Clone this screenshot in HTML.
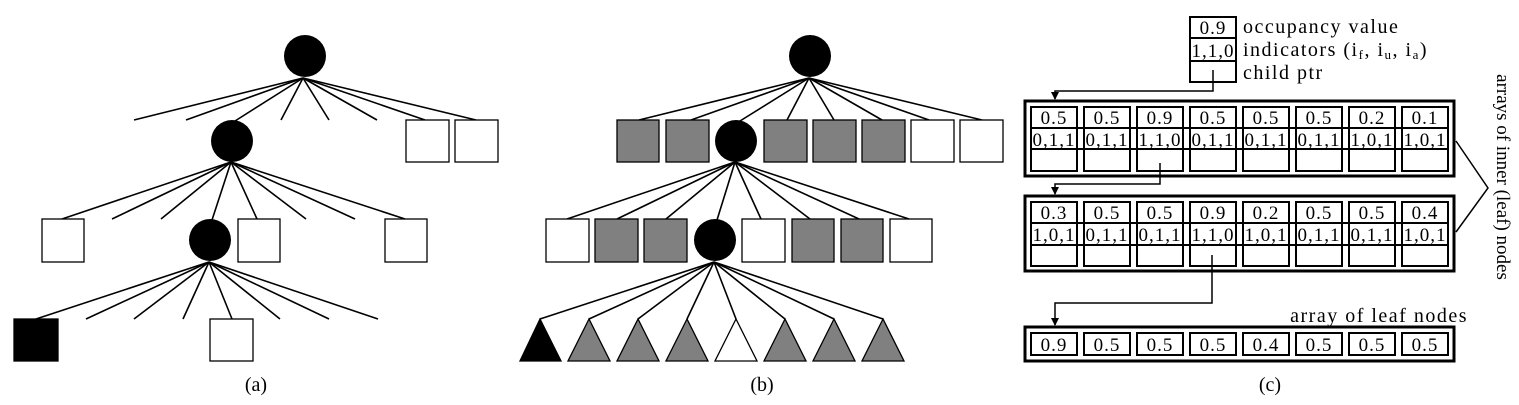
<!DOCTYPE html>
<html><head><meta charset="utf-8"><style>
html,body{margin:0;padding:0;background:#fff;}
svg{display:block;}
text{font-family:"Liberation Serif",serif;fill:#000;}
</style></head><body>
<svg width="1519" height="405" viewBox="0 0 1519 405" xmlns="http://www.w3.org/2000/svg">
<defs>
<marker id="ar" markerWidth="8" markerHeight="8" refX="4" refY="7" orient="0" markerUnits="userSpaceOnUse"><path d="M0,0 L8,0 L4,8 Z" fill="#000"/></marker>
</defs>
<!-- Panel (a) -->
<g stroke="#000" stroke-width="1.6">
<line x1="303" y1="78" x2="134" y2="120"/><line x1="303" y1="78" x2="186" y2="120"/><line x1="303" y1="78" x2="235" y2="121"/><line x1="303" y1="78" x2="281" y2="120"/><line x1="303" y1="78" x2="329" y2="120"/><line x1="303" y1="78" x2="377" y2="120"/><line x1="303" y1="78" x2="425" y2="120"/><line x1="303" y1="78" x2="476" y2="120"/>
<line x1="231" y1="162" x2="62" y2="219"/><line x1="231" y1="162" x2="112" y2="219"/><line x1="231" y1="162" x2="161" y2="219"/><line x1="231" y1="162" x2="212" y2="220"/><line x1="231" y1="162" x2="257" y2="219"/><line x1="231" y1="162" x2="306" y2="219"/><line x1="231" y1="162" x2="355" y2="219"/><line x1="231" y1="162" x2="405" y2="219"/>
<line x1="209" y1="262" x2="36" y2="319"/><line x1="209" y1="262" x2="86" y2="319"/><line x1="209" y1="262" x2="134" y2="319"/><line x1="209" y1="262" x2="183" y2="319"/><line x1="209" y1="262" x2="232" y2="319"/><line x1="209" y1="262" x2="280" y2="319"/><line x1="209" y1="262" x2="329" y2="319"/><line x1="209" y1="262" x2="378" y2="319"/>
</g>
<g stroke="#000" stroke-width="1.3" fill="#fff">
<rect x="406" y="120" width="43" height="42"/><rect x="455" y="120" width="43" height="42"/>
<rect x="42" y="219" width="42" height="43"/><rect x="238" y="219" width="42" height="43"/><rect x="385" y="219" width="42" height="43"/>
<rect x="14" y="319" width="44" height="42" fill="#000"/><rect x="210" y="319" width="43" height="42"/>
</g>
<circle cx="305" cy="56" r="21"/><circle cx="232" cy="141" r="21"/><circle cx="210" cy="240" r="21"/>
<text x="256" y="391" font-size="20" text-anchor="middle">(a)</text>

<!-- Panel (b) -->
<g stroke="#000" stroke-width="1.6">
<line x1="809" y1="78" x2="639" y2="120"/><line x1="809" y1="78" x2="691" y2="120"/><line x1="809" y1="78" x2="740" y2="121"/><line x1="809" y1="78" x2="787" y2="120"/><line x1="809" y1="78" x2="834" y2="120"/><line x1="809" y1="78" x2="882" y2="120"/><line x1="809" y1="78" x2="929" y2="120"/><line x1="809" y1="78" x2="982" y2="120"/>
<line x1="735" y1="162" x2="567" y2="219"/><line x1="735" y1="162" x2="617" y2="219"/><line x1="735" y1="162" x2="666" y2="219"/><line x1="735" y1="162" x2="717" y2="220"/><line x1="735" y1="162" x2="761" y2="219"/><line x1="735" y1="162" x2="810" y2="219"/><line x1="735" y1="162" x2="859" y2="219"/><line x1="735" y1="162" x2="909" y2="219"/>
<line x1="714" y1="262" x2="540" y2="319"/><line x1="714" y1="262" x2="589" y2="319"/><line x1="714" y1="262" x2="638" y2="319"/><line x1="714" y1="262" x2="687" y2="319"/><line x1="714" y1="262" x2="736" y2="319"/><line x1="714" y1="262" x2="785" y2="319"/><line x1="714" y1="262" x2="834" y2="319"/><line x1="714" y1="262" x2="883" y2="319"/>
</g>
<g stroke="#000" stroke-width="1.3">
<rect x="617" y="120" width="42" height="42" fill="#808080"/><rect x="666" y="120" width="43" height="42" fill="#808080"/><rect x="764" y="120" width="43" height="42" fill="#808080"/><rect x="813" y="120" width="43" height="42" fill="#808080"/><rect x="862" y="120" width="43" height="42" fill="#808080"/><rect x="911" y="120" width="43" height="42" fill="#fff"/><rect x="960" y="120" width="43" height="42" fill="#fff"/>
<rect x="546" y="219" width="43" height="43" fill="#fff"/><rect x="595" y="219" width="43" height="43" fill="#808080"/><rect x="644" y="219" width="43" height="43" fill="#808080"/><rect x="742" y="219" width="43" height="43" fill="#fff"/><rect x="792" y="219" width="42" height="43" fill="#808080"/><rect x="841" y="219" width="42" height="43" fill="#808080"/><rect x="890" y="219" width="42" height="43" fill="#fff"/>
<polygon points="540,319 520,361 561,361" fill="#000"/>
<polygon points="589,319 568,361 610,361" fill="#808080"/>
<polygon points="638,319 617,361 659,361" fill="#808080"/>
<polygon points="687,319 666,361 708,361" fill="#808080"/>
<polygon points="736,319 715,361 757,361" fill="#fff"/>
<polygon points="785,319 764,361 806,361" fill="#808080"/>
<polygon points="834,319 813,361 855,361" fill="#808080"/>
<polygon points="883,319 862,361 904,361" fill="#808080"/>
</g>
<circle cx="810" cy="56" r="21"/><circle cx="736" cy="141" r="21"/><circle cx="715" cy="240" r="21"/>
<text x="762" y="391" font-size="20" text-anchor="middle">(b)</text>

<!-- Panel (c) -->
<g fill="none" stroke="#000">
<rect x="1190" y="17" width="46" height="65" stroke-width="2"/>
<line x1="1190" y1="38" x2="1236" y2="38" stroke-width="2"/><line x1="1190" y1="61" x2="1236" y2="61" stroke-width="2"/>
<polyline points="1213,70 1213,91 1055,91 1055,99" stroke-width="1.5" marker-end="url(#ar)"/>
<polyline points="1160,163 1160,184 1055,184 1055,194" stroke-width="1.5" marker-end="url(#ar)"/>
<polyline points="1212,255 1212,303 1055,303 1055,325" stroke-width="1.5" marker-end="url(#ar)"/>
<rect x="1025" y="101" width="429" height="75" stroke-width="3"/>
<rect x="1025" y="196" width="429" height="75" stroke-width="3"/>
<rect x="1025" y="327" width="429" height="34" stroke-width="3"/>
<polyline points="1456,141 1488,188 1456,232" stroke-width="1.5"/>
</g>
<g fill="none" stroke="#000" stroke-width="2">
<rect x="1031" y="107" width="46" height="64"/><rect x="1084" y="107" width="46" height="64"/><rect x="1137" y="107" width="46" height="64"/><rect x="1190" y="107" width="46" height="64"/><rect x="1243" y="107" width="46" height="64"/><rect x="1296" y="107" width="46" height="64"/><rect x="1349" y="107" width="46" height="64"/><rect x="1402" y="107" width="46" height="64"/>
<line x1="1031" y1="128" x2="1448" y2="128"/><line x1="1031" y1="149" x2="1448" y2="149"/>
<rect x="1031" y="202" width="46" height="64"/><rect x="1084" y="202" width="46" height="64"/><rect x="1137" y="202" width="46" height="64"/><rect x="1190" y="202" width="46" height="64"/><rect x="1243" y="202" width="46" height="64"/><rect x="1296" y="202" width="46" height="64"/><rect x="1349" y="202" width="46" height="64"/><rect x="1402" y="202" width="46" height="64"/>
<line x1="1031" y1="223" x2="1448" y2="223"/><line x1="1031" y1="245" x2="1448" y2="245"/>
<rect x="1031" y="333" width="46" height="22"/><rect x="1084" y="333" width="46" height="22"/><rect x="1137" y="333" width="46" height="22"/><rect x="1190" y="333" width="46" height="22"/><rect x="1243" y="333" width="46" height="22"/><rect x="1296" y="333" width="46" height="22"/><rect x="1349" y="333" width="46" height="22"/><rect x="1402" y="333" width="46" height="22"/>
</g>
<g font-size="19" text-anchor="middle" letter-spacing="1">
<text x="1213" y="34">0.9</text><text x="1213" y="57">1,1,0</text>
<text x="1054" y="124">0.5</text><text x="1107" y="124">0.5</text><text x="1160" y="124">0.9</text><text x="1213" y="124">0.5</text><text x="1266" y="124">0.5</text><text x="1319" y="124">0.5</text><text x="1372" y="124">0.2</text><text x="1425" y="124">0.1</text>
<text x="1054" y="146">0,1,1</text><text x="1107" y="146">0,1,1</text><text x="1160" y="146">1,1,0</text><text x="1213" y="146">0,1,1</text><text x="1266" y="146">0,1,1</text><text x="1319" y="146">0,1,1</text><text x="1372" y="146">1,0,1</text><text x="1425" y="146">1,0,1</text>
<text x="1054" y="219">0.3</text><text x="1107" y="219">0.5</text><text x="1160" y="219">0.5</text><text x="1213" y="219">0.9</text><text x="1266" y="219">0.2</text><text x="1319" y="219">0.5</text><text x="1372" y="219">0.5</text><text x="1425" y="219">0.4</text>
<text x="1054" y="241">1,0,1</text><text x="1107" y="241">0,1,1</text><text x="1160" y="241">0,1,1</text><text x="1213" y="241">1,1,0</text><text x="1266" y="241">1,0,1</text><text x="1319" y="241">0,1,1</text><text x="1372" y="241">0,1,1</text><text x="1425" y="241">1,0,1</text>
<text x="1054" y="351">0.9</text><text x="1107" y="351">0.5</text><text x="1160" y="351">0.5</text><text x="1213" y="351">0.5</text><text x="1266" y="351">0.4</text><text x="1319" y="351">0.5</text><text x="1372" y="351">0.5</text><text x="1425" y="351">0.5</text>
</g>
<g font-size="20" letter-spacing="1.5">
<text x="1243" y="33">occupancy value</text>
<text x="1243" y="56">indicators (i<tspan font-size="13" dy="3">f</tspan><tspan dy="-3">, i</tspan><tspan font-size="13" dy="3">u</tspan><tspan dy="-3">, i</tspan><tspan font-size="13" dy="3">a</tspan><tspan dy="-3">)</tspan></text>
<text x="1243" y="79">child ptr</text>
<text x="1468" y="322" text-anchor="end">array of leaf nodes</text>
</g>
<text x="0" y="0" font-size="19" text-anchor="middle" transform="translate(1497,177) rotate(90)">arrays of inner (leaf) nodes</text>
<text x="1270" y="391" font-size="20" text-anchor="middle">(c)</text>
</svg>
</body></html>
